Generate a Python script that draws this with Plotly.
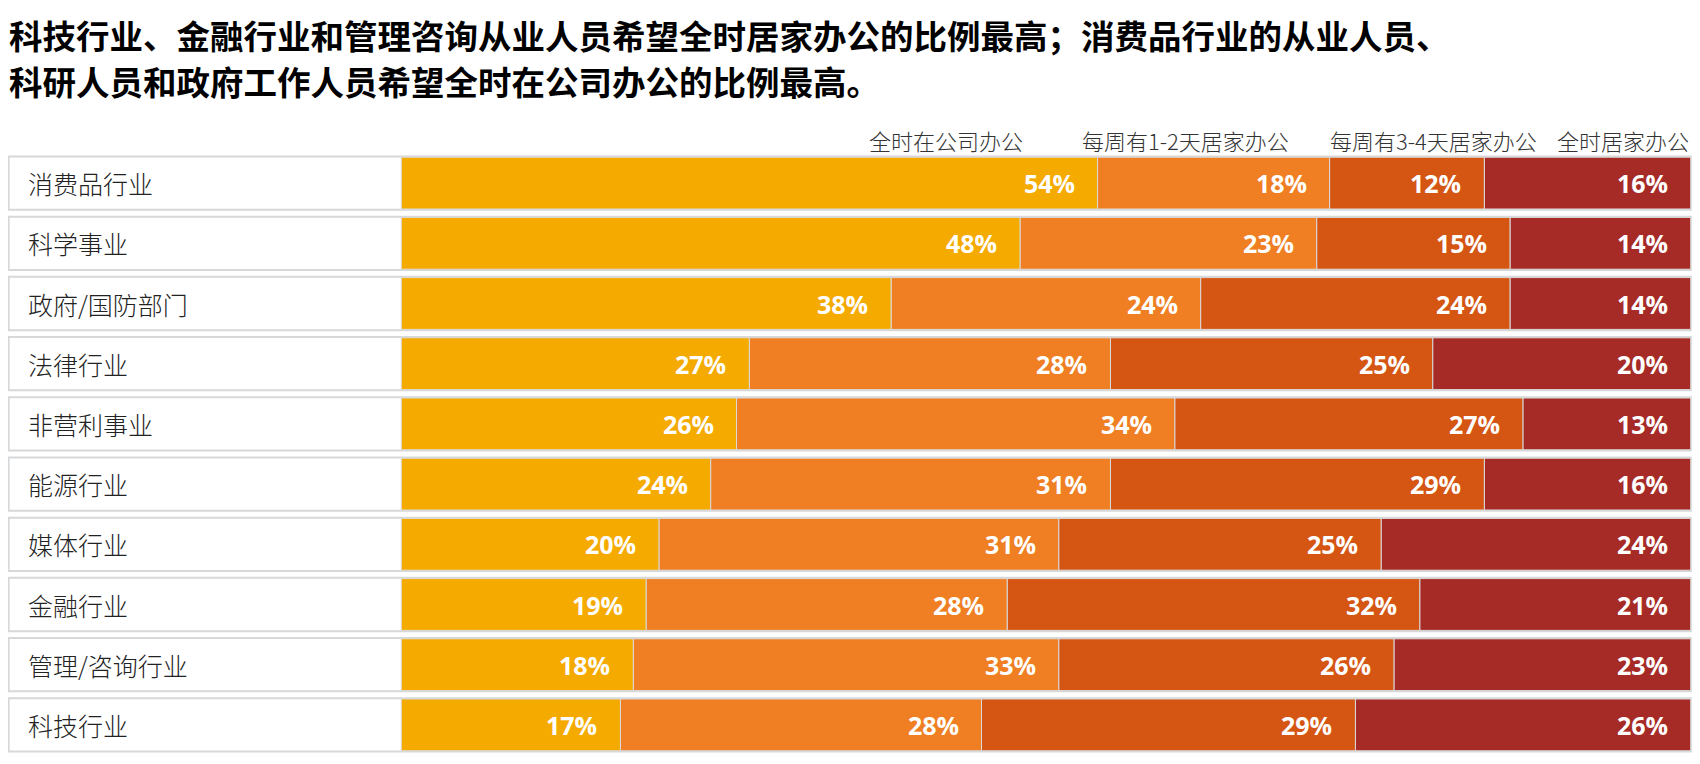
import plotly.graph_objects as go

# industries, top to bottom
categories = ["消费品行业", "科学事业", "政府/国防部门", "法律行业", "非营利事业",
              "能源行业", "媒体行业", "金融行业", "管理/咨询行业", "科技行业"]

# share of respondents (%) per work arrangement
office_full = [54, 48, 38, 27, 26, 24, 20, 19, 18, 17]
home_1_2 = [18, 23, 24, 28, 34, 31, 31, 28, 33, 28]
home_3_4 = [12, 15, 24, 25, 27, 29, 25, 32, 26, 29]
home_full = [16, 14, 14, 20, 13, 16, 24, 21, 23, 26]

series_names = ["全时在公司办公", "每周有1-2天居家办公", "每周有3-4天居家办公", "全时居家办公"]
series_values = [office_full, home_1_2, home_3_4, home_full]
colors = ["#F5AA00", "#EF7F22", "#D55513", "#A62A25"]

title_lines = ["科技行业、金融行业和管理咨询从业人员希望全时居家办公的比例最高；消费品行业的从业人员、",
               "科研人员和政府工作人员希望全时在公司办公的比例最高。"]

# the page body adds 8px around the figure
W, H = 1692, 756
M_L, M_R, M_T, M_B = 0, 8, 145, 9
LABEL_BOX = 30.45   # width of the white label box, in % units
X_RANGE = [-30.5, 100.1]
# right edges of the column headers (in % units)
header_x = [48.4, 69.0, 88.2, 100.0]

CJK = "Noto Sans CJK SC"


def py_to_paper(py):
    # py: pixel offset from the top of the figure
    return (H - M_B - py) / (H - M_T - M_B)


fig = go.Figure()

# white label box behind every row
fig.add_trace(go.Bar(
    y=categories, x=[100 + LABEL_BOX] * len(categories), base=-LABEL_BOX,
    orientation="h", width=0.885,
    marker=dict(color="white", line=dict(color="#D6D8DA", width=2)),
    hoverinfo="skip", showlegend=False,
))

annotations = []
cum = [0] * len(categories)
for name, vals, col in zip(series_names, series_values, colors):
    fig.add_trace(go.Bar(
        y=categories, x=vals, base=list(cum), name=name,
        orientation="h", width=0.86,
        marker=dict(color=col, line=dict(color="#DADADA", width=1)),
        showlegend=False,
    ))
    for i, v in enumerate(vals):
        annotations.append(dict(
            x=cum[i] + v, y=categories[i], xref="x", yref="y",
            text=f"{v}%", showarrow=False, xanchor="right", yanchor="middle",
            xshift=-21, font=dict(family="Open Sans", size=25, color="white", weight="bold"),
        ))
        cum[i] += v

# category labels inside the white boxes
for c in categories:
    annotations.append(dict(
        x=-LABEL_BOX, y=c, xref="x", yref="y", text=c, showarrow=False,
        xanchor="left", yanchor="middle", xshift=17,
        font=dict(family=CJK, size=25, color="#222222", weight=300),
    ))

# column headers
for name, hx in zip(series_names, header_x):
    annotations.append(dict(
        x=hx, y=py_to_paper(132), xref="x", yref="paper", text=name,
        showarrow=False, xanchor="right", yanchor="middle",
        font=dict(family=CJK, size=22, color="#333333", weight=300),
    ))

# two-line title
for line, py in zip(title_lines, [26, 72]):
    annotations.append(dict(
        x=0, y=py_to_paper(py), xref="paper", yref="paper", text=line,
        showarrow=False, xanchor="left", yanchor="middle", borderpad=0,
        font=dict(family=CJK, size=33.5, color="#000000", weight="bold"),
    ))

fig.update_layout(
    width=W, height=H,
    margin=dict(l=M_L, r=M_R, t=M_T, b=M_B),
    barmode="overlay",
    plot_bgcolor="white", paper_bgcolor="white",
    annotations=annotations,
    xaxis=dict(range=X_RANGE, visible=False, fixedrange=True),
    yaxis=dict(range=[len(categories) - 0.5, -0.5], visible=False, fixedrange=True),
)

fig.write_html("out.html")
